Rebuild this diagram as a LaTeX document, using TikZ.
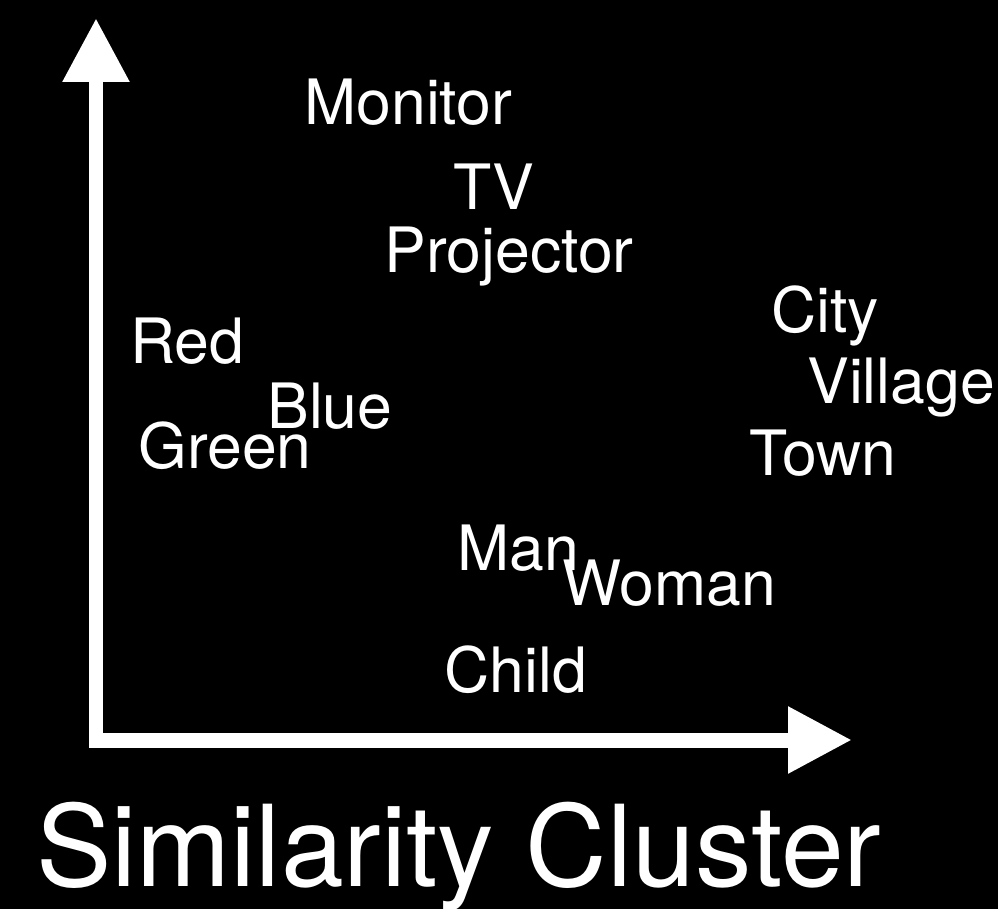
\documentclass[tikz,border=0pt]{standalone}
\usepackage{fontspec}
\setmainfont{TeX Gyre Heros}
\usetikzlibrary{arrows.meta}

\def\wordfont{\fontsize{35.6}{40}\selectfont}
\def\titlefont{\fontsize{64.3}{70}\selectfont}
\def\axistip{Triangle[length=1.28cm, width=1.26cm]}

\begin{document}
\begin{tikzpicture}[x=0.02cm, y=-0.02cm,
	word/.style={anchor=base west, inner sep=0pt, text=white, font=\wordfont},
	axis/.style={white, line width=0.3cm, line join=miter}]
	\fill[black] (0, 0) rectangle (998, 909);
	\useasboundingbox (0, 0) rectangle (998, 909);

	\coordinate (ytip) at (96, 18);
	\coordinate (origin) at (96, 740);
	\coordinate (xtip) at (852, 740);
	\draw[axis, {\axistip}-{\axistip}] (ytip) -- (origin) -- (xtip);

	\node[word] (monitor) at (304, 125) {Monitor};
	\node[word] (tv) at (453, 210) {TV};
	\node[word] (projector) at (384, 273) {Projector};

	\node[word] (red) at (130, 363) {Red};
	\node[word] (blue) at (267, 428) {Blue};
	\node[word] (green) at (138, 468) {Green};

	\node[word] (city) at (771, 332) {City};
	\node[word] (village) at (807, 403) {Village};
	\node[word] (town) at (749, 475) {Town};

	\node[word] (man) at (457, 570) {Man};
	\node[word] (woman) at (562, 605) {Woman};
	\node[word] (child) at (444, 692) {Child};

	\node[word, font=\titlefont] (title) at (36, 886) {Similarity Cluster};
\end{tikzpicture}
\end{document}
